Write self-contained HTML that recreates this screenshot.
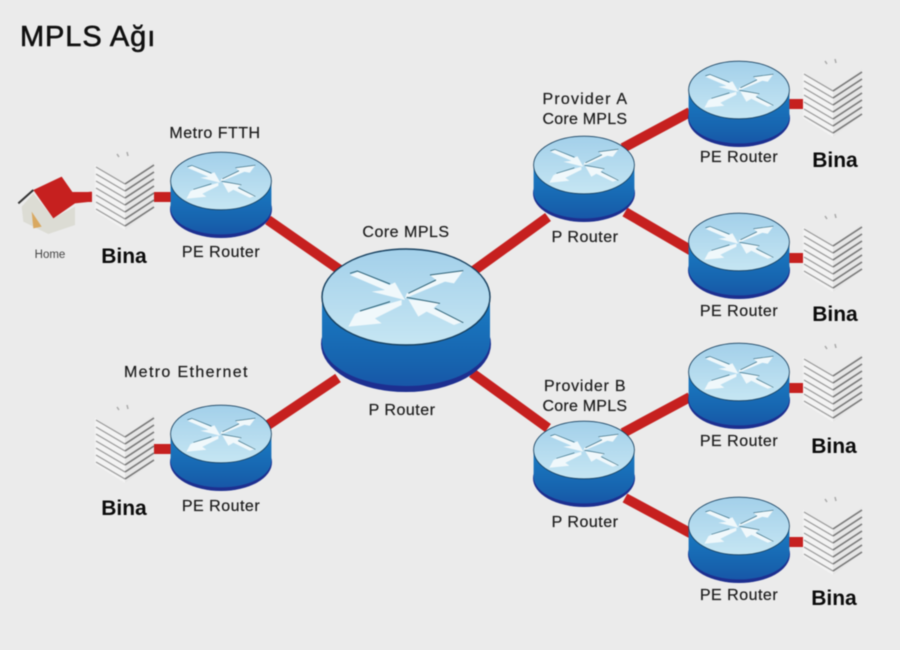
<!DOCTYPE html>
<html><head><meta charset="utf-8"><style>
html,body{margin:0;padding:0;background:#ebebeb}
svg{display:block;filter:blur(.45px)}
text{font-family:"Liberation Sans",sans-serif;fill:#1c1c1c}
.l{font-size:16px;text-anchor:middle;letter-spacing:.5px;stroke:#1c1c1c;stroke-width:.2px}
.b{font-size:21px;font-weight:bold;text-anchor:middle;fill:#0b0b0b}
</style></head><body>
<svg width="900" height="650" viewBox="0 0 900 650" xmlns="http://www.w3.org/2000/svg">
<defs>
<linearGradient id="top" x1="0" y1="0" x2="0" y2="1"><stop offset="0" stop-color="#a3d0ea"/><stop offset="1" stop-color="#c6e6f3"/></linearGradient>
<linearGradient id="side" x1="0" y1="0" x2="0" y2="1"><stop offset="0" stop-color="#1a7cc4"/><stop offset=".75" stop-color="#1763ae"/><stop offset="1" stop-color="#1857a8"/></linearGradient>
<g id="r">
<ellipse cx="0" cy="47" rx="85" ry="48" fill="#1d2f90"/>
<path d="M-84 0V44C-84 70 -46 89 0 89S84 70 84 44V0Z" fill="url(#side)"/>
<ellipse cx="0" cy="0" rx="84" ry="48" fill="url(#top)" stroke="#17405f" stroke-width="1.4"/>
<g transform="translate(-96 -57) scale(.3333)">
<path d="M120 105L145 95L238 135L255 127L285 180L185 155L225 150Z" fill="#f0f8fb"/>
<path d="M460 92L432 130L405 125L285 175L290 160L378 120L360 105Z" fill="#f0f8fb"/>
<path d="M115 260L135 222L150 215L275 180L275 195L195 235L215 250Z" fill="#f0f8fb"/>
<path d="M295 178L390 187L370 205L460 245L432 255L350 215L325 230Z" fill="#f0f8fb"/>
<path d="M120 100L142 93L240 132M360 105L460 92M378 120L295 160M150 213L240 185M375 205L460 248M290 172L390 190" stroke="#2f6378" stroke-width="3" fill="none"/>
</g>
</g>
<g id="bd">
<path d="M0 3L30 22V68L0 49Z" fill="#f3f3f3"/><path d="M30 22L59 0V46L30 68Z" fill="#e6e6e6"/>
<path d="M1 5L30 22M1 12L30 29M1 19L30 36M1 26L30 43M1 33L30 50M1 40L30 57M1 47L30 64" stroke="#9a9a9a" stroke-width="1.3" fill="none"/>
<path d="M59 3L30 22M59 10L30 29M59 17L30 36M59 24L30 43M59 31L30 50M59 38L30 57M59 45L30 64" stroke="#777" stroke-width="1.6" fill="none"/>
<path d="M22 -8l2 3M32 -10l1 4" stroke="#aaa" stroke-width="1.5"/>
</g>
</defs>
<rect width="900" height="650" fill="#ebebeb"/>
<g stroke="#c6201f" stroke-width="10" fill="none">
<path d="M72 197H92M153 197H175M268 220L340 270M268 425L338 378"/>
<path d="M472 272L548 217M472 373L548 428"/>
<path d="M623 148L690 112M625 212L692 251M623 433L690 397M625 498L692 534"/>
<path d="M786 104H803M786 258H803M786 388H803M786 542H803"/>
<path d="M153 449H175"/>
</g>
<use href="#r" transform="translate(406 297)"/>
<use href="#r" transform="translate(221 181) scale(.6)"/>
<use href="#r" transform="translate(221 434) scale(.6)"/>
<use href="#r" transform="translate(584 165) scale(.6)"/>
<use href="#r" transform="translate(584 450) scale(.6)"/>
<use href="#r" transform="translate(739 90) scale(.6)"/>
<use href="#r" transform="translate(739 242) scale(.6)"/>
<use href="#r" transform="translate(739 372) scale(.6)"/>
<use href="#r" transform="translate(739 526) scale(.6)"/>
<use href="#bd" x="95" y="162"/>
<use href="#bd" x="95" y="415"/>
<use href="#bd" x="803" y="69"/>
<use href="#bd" x="803" y="224"/>
<use href="#bd" x="803" y="354"/>
<use href="#bd" x="803" y="507"/>
<g transform="translate(10 170) scale(.3333)">
<path d="M35 110L70 70L130 145L195 110V165L115 192L40 155Z" fill="#dcdcd4"/>
<path d="M65 125L95 170L70 175Z" fill="#d9a860"/>
<path d="M25 100L70 60" stroke="#333" stroke-width="6"/>
<path d="M70 60L155 20L190 70L245 65V95L195 100L130 145Z" fill="#c6201f"/>
</g>
<text x="20" y="46" style="font-size:29px;letter-spacing:.9px;fill:#111;stroke:#111;stroke-width:.6px">MPLS Ağı</text>
<text class="l" x="215" y="138">Metro FTTH</text>
<text class="l" x="221" y="257">PE Router</text>
<text class="l" x="186" y="377" textLength="124">Metro Ethernet</text>
<text class="l" x="221" y="511">PE Router</text>
<text class="l" x="406" y="237">Core MPLS</text>
<text class="l" x="402" y="415">P Router</text>
<text class="l" x="585" y="104" textLength="85">Provider A</text>
<text class="l" x="585" y="124" textLength="85">Core MPLS</text>
<text class="l" x="585" y="242">P Router</text>
<text class="l" x="585" y="391" textLength="82">Provider B</text>
<text class="l" x="585" y="411" textLength="85">Core MPLS</text>
<text class="l" x="585" y="527">P Router</text>
<text class="l" x="739" y="162">PE Router</text>
<text class="l" x="739" y="316">PE Router</text>
<text class="l" x="739" y="446">PE Router</text>
<text class="l" x="739" y="600">PE Router</text>
<text x="50" y="258" style="font-size:11.5px;text-anchor:middle;fill:#444">Home</text>
<text class="b" x="124" y="263">Bina</text>
<text class="b" x="124" y="515">Bina</text>
<text class="b" x="835" y="167">Bina</text>
<text class="b" x="835" y="321">Bina</text>
<text class="b" x="834" y="453">Bina</text>
<text class="b" x="834" y="605">Bina</text>
</svg>
</body></html>
